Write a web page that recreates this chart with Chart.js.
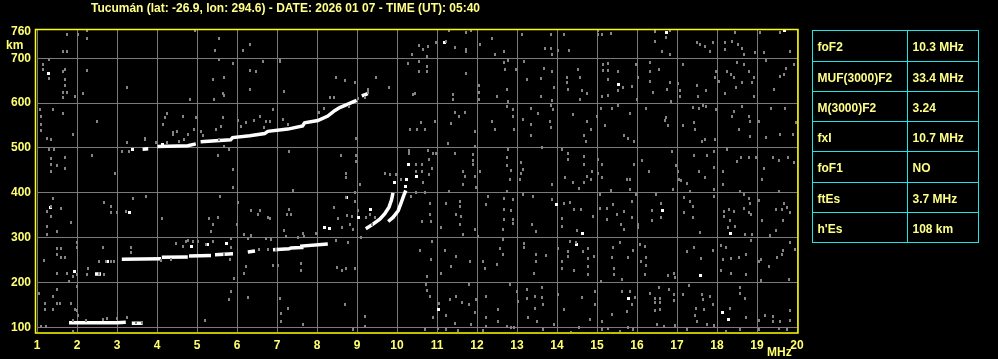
<!DOCTYPE html>
<html lang="es">
<head>
<meta charset="UTF-8">
<title>Ionograma Tucumán</title>
<script src="https://cdn.jsdelivr.net/npm/chart.js"></script>
<style>
  html, body { margin: 0; padding: 0; background: #000; }
  canvas { display: block; }
</style>
</head>
<body>
<canvas id="iono" width="998" height="359"></canvas>
<script>
// --- chart data -------------------------------------------------------
const titleText = 'Tucumán (lat: -26.9, lon: 294.6) - DATE: 2026 01 07 - TIME (UT): 05:40';
const xTicks = [1, 2, 3, 4, 5, 6, 7, 8, 9, 10, 11, 12, 13, 14, 15, 16, 17, 18, 19, 20];
const yTicks = [100, 200, 300, 400, 500, 600, 700, 760];

// echo traces [MHz, km], null = gap
const esTrace = [[1.80, 110], [2.4, 110], [3.0, 110], [3.22, 111], null, [3.37, 109], [3.64, 109]];
const lowTrace = [[2.45, 219], [2.6, 219], null, [3.12, 252], [4.1, 253], null, [4.12, 256], [4.77, 257], null,
  [4.8, 259], [5.35, 260], null, [5.45, 262], [5.9, 264], null, [6.27, 268], [6.45, 270], null,
  [6.9, 273], [7.3, 275], [7.35, 277], [7.6, 278], [7.62, 281], [8.27, 286]];
const f2Trace = [[3.64, 497], [3.78, 498], null, [4.01, 503], [4.77, 505], [4.97, 509], null, [5.09, 514],
  [5.84, 518], [5.89, 523], [6.32, 527], [6.69, 532], [6.77, 537], [7.27, 542], [7.64, 549], [7.69, 556],
  [8.02, 561], [8.27, 571], [8.44, 583], [8.57, 590], [8.99, 606], null, [9.12, 616], [9.27, 621]];
const hookA = [[9.22, 320], [9.40, 330], [9.57, 341], [9.69, 353], [9.80, 368], [9.86, 383], [9.90, 400]];
const hookB = [[9.78, 336], [9.90, 345], [10.03, 360], [10.11, 379], [10.17, 394], [10.22, 405]];

const whiteDots = [[1.29, 665], [1.345, 368], [1.93, 225], [2.76, 247], [3.30, 357], [3.385, 497], [4.14, 508],
  [4.87, 281], [5.27, 284], [5.73, 286], [8.187, 323], [8.31, 320], [8.737, 390], [9.028, 344], [9.337, 362],
  [9.945, 422], [10.295, 463], [10.487, 437], [10.237, 429], [10.22, 415], [11.195, 735], [11.028, 139],
  [15.537, 641], [13.995, 374], [14.637, 310], [14.495, 284], [15.787, 164], [16.737, 757], [19.687, 762],
  [16.628, 360], [18.337, 310], [17.587, 216], [18.128, 132], [18.295, 117]];

const noise = [
  // 1 - 4.8 MHz
  [1.745, 752], [2.03, 753], [2.24, 762], [2.24, 744], [1.64, 716], [1.745, 714], [1.29, 698], [1.14, 686],
  [1.14, 675], [1.29, 655], [1.64, 671], [1.69, 675], [2.245, 673], [1.695, 653], [1.695, 639], [1.74, 624],
  [1.64, 624], [1.64, 612], [1.95, 615], [2.14, 621], [3.24, 634], [1.08, 586], [1.095, 569], [1.095, 552],
  [1.095, 539], [1.39, 586], [1.64, 576], [2.495, 558], [1.91, 531], [1.245, 522], [1.345, 519], [1.29, 496],
  [1.43, 496], [1.345, 476], [1.345, 463], [1.495, 461], [1.695, 478], [1.695, 455], [1.345, 447], [2.385, 483],
  [2.945, 443], [4.245, 576], [4.19, 567], [4.64, 571], [4.14, 552], [4.39, 534], [4.51, 536], [3.70, 522],
  [3.245, 511], [3.12, 491], [3.30, 493], [1.39, 387], [1.345, 370], [1.26, 359], [1.595, 365], [1.345, 348],
  [1.26, 325], [1.26, 307], [1.845, 333], [1.495, 313], [2.68, 379], [2.845, 370], [2.845, 355], [3.0, 357],
  [3.22, 359], [3.41, 387], [3.735, 392], [4.135, 342], [1.01, 292], [1.495, 275], [1.595, 275], [1.495, 263],
  [1.595, 255], [1.695, 256], [1.995, 288], [1.995, 277], [2.64, 278], [3.345, 278], [3.345, 267], [1.18, 249],
  [2.55, 246], [2.72, 247], [2.845, 247], [2.93, 247], [1.51, 221], [1.745, 221], [1.89, 214], [2.01, 217],
  [2.285, 231], [2.26, 217], [2.68, 217], [1.80, 203], [1.04, 175], [1.495, 185], [1.39, 169], [1.495, 154],
  [1.57, 152], [1.845, 152], [1.195, 152], [1.195, 139], [1.41, 139], [1.945, 139], [1.995, 191], [2.03, 126],
  [1.99, 137], [1.095, 102], [1.235, 102], [1.90, 91], [3.69, 519], [3.97, 511], [4.26, 511], [4.39, 530],
  [4.55, 515], [4.68, 519], [4.47, 286], [4.64, 281], [4.72, 292], [4.35, 251], [4.1, 249], [2.55, 221],
  [2.76, 119], [3.01, 119], [3.26, 121], [3.47, 110], [3.62, 110], [2.64, 117], [2.22, 115], [1.89, 115],
  // 4.8 - 8.6 MHz
  [4.95, 762], [5.545, 743], [5.44, 717], [6.145, 717], [6.335, 731], [5.545, 697], [5.895, 688], [7.087, 697],
  [7.087, 692], [6.645, 692], [6.335, 673], [6.48, 670], [5.395, 653], [5.687, 656], [6.335, 630], [7.187, 625],
  [5.645, 621], [5.687, 617], [4.837, 608], [5.437, 608], [8.478, 656], [8.337, 612], [8.437, 612], [6.895, 586],
  [4.978, 567], [5.645, 567], [6.02, 561], [6.228, 556], [6.437, 561], [6.587, 571], [6.728, 560], [6.837, 560],
  [7.145, 563], [7.27, 552], [4.937, 541], [5.103, 537], [5.478, 541], [5.603, 548], [6.103, 548], [6.687, 545],
  [4.77, 530], [5.145, 528], [5.562, 519], [5.687, 504], [5.812, 496], [5.537, 483], [7.295, 491], [8.187, 589],
  [8.062, 578], [5.895, 452], [5.895, 412], [7.395, 405], [5.587, 391], [6.037, 379], [6.353, 360], [6.587, 360],
  [6.537, 351], [6.787, 345], [6.837, 342], [7.295, 362], [7.253, 351], [7.353, 351], [8.437, 368], [8.537, 342],
  [5.537, 345], [5.312, 342], [5.395, 329], [5.353, 313], [6.003, 329], [7.187, 316], [7.645, 310], [7.978, 310],
  [4.77, 294], [4.895, 292], [5.02, 292], [5.228, 284], [5.395, 292], [5.853, 298], [6.187, 307], [6.353, 305],
  [6.728, 298], [6.853, 296], [7.228, 303], [7.52, 301], [7.687, 303], [8.478, 293], [6.27, 299], [6.562, 273],
  [6.77, 273], [6.978, 273], [5.853, 277], [5.687, 262], [5.837, 251], [6.228, 236], [6.187, 221], [6.895, 238],
  [7.037, 238], [7.603, 243], [7.603, 226], [8.503, 234], [5.937, 209], [5.853, 180], [5.812, 162], [6.287, 167],
  [7.087, 164], [7.27, 143], [7.103, 130], [7.103, 112], [7.645, 107], [5.203, 115],
  // 8.6 - 12.4 MHz
  [11.295, 762], [11.737, 757], [11.862, 762], [10.987, 735], [11.237, 737], [10.778, 727], [10.653, 720],
  [10.545, 729], [10.387, 708], [10.753, 705], [11.445, 723], [11.737, 720], [11.737, 714], [12.087, 731],
  [10.278, 688], [10.545, 692], [10.753, 682], [10.545, 671], [10.753, 670], [11.737, 665], [8.695, 651],
  [8.945, 647], [9.487, 656], [9.803, 634], [9.278, 630], [9.278, 623], [9.195, 612], [9.028, 610], [8.795, 592],
  [10.403, 619], [10.445, 621], [11.403, 619], [11.403, 608], [12.053, 640], [12.053, 623], [12.053, 608],
  [11.445, 580], [11.695, 580], [11.545, 569], [11.345, 554], [10.595, 556], [10.337, 541], [10.503, 541],
  [10.695, 541], [10.945, 558], [11.945, 536], [8.987, 522], [11.278, 509], [11.945, 504], [10.295, 494],
  [10.295, 487], [10.778, 494], [10.903, 487], [10.987, 487], [10.803, 474], [11.445, 487], [11.903, 485],
  [11.903, 472], [11.903, 463], [8.595, 483], [8.987, 483], [8.987, 470], [8.737, 442], [8.737, 435],
  [9.087, 418], [10.487, 463], [10.637, 463], [10.487, 448], [10.637, 448], [10.887, 455], [10.803, 441],
  [11.653, 448], [11.695, 437], [11.945, 437], [12.07, 448], [11.653, 418], [11.987, 412], [10.653, 424],
  [9.695, 444], [9.82, 441], [9.987, 441], [10.112, 429], [8.945, 400], [8.737, 390], [10.487, 400],
  [10.695, 400], [11.295, 402], [8.945, 381], [8.753, 349], [9.028, 360], [8.887, 348], [8.82, 329],
  [8.903, 318], [9.112, 301], [8.637, 323], [9.32, 351], [9.445, 344], [9.237, 344], [9.378, 329], [10.82, 377],
  [10.82, 351], [10.845, 336], [10.637, 336], [10.362, 392], [11.095, 322], [11.237, 377], [11.57, 381],
  [11.57, 370], [11.487, 351], [11.612, 348], [11.587, 329], [11.653, 307], [11.945, 318], [12.278, 392],
  [12.237, 374], [12.028, 303], [8.778, 288], [10.887, 292], [10.587, 271], [11.195, 271], [11.487, 258],
  [10.845, 251], [11.095, 219], [11.362, 236], [11.82, 246], [12.153, 247], [12.195, 232], [10.753, 214],
  [8.737, 231], [8.945, 232], [8.637, 226], [11.803, 195], [10.72, 195], [10.753, 182], [10.82, 169],
  [11.053, 152], [11.32, 162], [11.487, 169], [11.637, 156], [11.803, 150], [11.97, 162], [12.237, 169],
  [8.695, 150], [9.195, 124], [9.195, 102], [10.903, 121], [11.237, 127], [11.445, 109], [11.028, 98],
  [10.695, 95], [11.945, 132], [12.237, 121], [11.862, 107], [12.237, 102], [12.153, 92], [11.528, 92],
  [11.22, 95], [8.903, 95],
  // 12.4 - 16.2 MHz
  [13.12, 752], [13.853, 753], [14.187, 752], [15.037, 762], [15.345, 755], [12.387, 744], [12.687, 714],
  [12.453, 708], [13.703, 722], [13.853, 722], [13.887, 708], [14.037, 717], [14.303, 717], [15.037, 752],
  [15.137, 753], [12.787, 695], [12.687, 690], [13.187, 692], [12.703, 675], [12.97, 675], [13.678, 677],
  [13.887, 671], [13.245, 653], [13.603, 655], [14.245, 658], [14.245, 645], [14.537, 675], [14.578, 656],
  [15.162, 685], [15.287, 688], [15.162, 673], [15.287, 673], [15.537, 671], [15.287, 653], [15.537, 627],
  [15.645, 634], [15.887, 638], [16.037, 658], [15.97, 685], [12.745, 630], [12.495, 615], [12.787, 604],
  [13.603, 615], [13.937, 634], [13.887, 606], [14.27, 630], [14.578, 608], [14.637, 627], [14.745, 621],
  [15.12, 615], [15.287, 618], [16.0, 608], [12.745, 593], [12.912, 586], [12.912, 571], [13.353, 589],
  [13.537, 576], [13.853, 595], [13.895, 586], [13.145, 563], [13.353, 552], [13.828, 558], [12.37, 558],
  [12.453, 541], [12.937, 541], [13.353, 528], [13.853, 546], [14.395, 575], [14.745, 560], [14.853, 541],
  [14.687, 528], [14.728, 515], [14.995, 569], [15.103, 589], [15.37, 589], [15.537, 595], [15.828, 576],
  [15.687, 528], [15.778, 522], [15.937, 515], [15.203, 551], [13.637, 500], [12.787, 496], [12.745, 478],
  [12.745, 461], [12.853, 450], [12.828, 429], [13.103, 467], [13.103, 444], [13.145, 452], [13.078, 429],
  [13.887, 418], [14.137, 496], [14.287, 487], [14.287, 474], [14.687, 482], [14.687, 463], [14.745, 437],
  [14.687, 422], [14.853, 429], [14.87, 447], [14.203, 435], [14.412, 422], [14.553, 409], [15.037, 474],
  [15.12, 463], [15.037, 444], [15.12, 433], [15.345, 405], [15.937, 464], [15.745, 429], [15.828, 429],
  [15.828, 407], [16.137, 472], [12.745, 403], [13.162, 396], [13.412, 391], [13.887, 385], [14.187, 377],
  [14.328, 379], [14.137, 342], [14.12, 325], [12.687, 388], [12.895, 385], [12.687, 362], [12.853, 360],
  [12.895, 340], [12.895, 331], [12.687, 340], [12.645, 319], [13.37, 329], [13.47, 314], [14.437, 362],
  [14.495, 316], [14.603, 362], [14.895, 348], [15.078, 396], [15.078, 366], [15.245, 366], [15.245, 340],
  [15.412, 374], [15.495, 351], [15.603, 329], [15.687, 359], [15.687, 318], [15.87, 345], [15.87, 381],
  [15.97, 396], [16.037, 322], [16.037, 329], [12.645, 295], [12.578, 275], [12.495, 240], [12.645, 262],
  [13.187, 286], [13.187, 277], [13.478, 262], [13.478, 247], [13.72, 261], [13.437, 221], [14.12, 247],
  [14.12, 232], [14.287, 270], [14.287, 258], [14.437, 226], [14.328, 292], [14.478, 288], [14.662, 268],
  [14.787, 275], [14.787, 253], [14.937, 258], [14.787, 236], [14.787, 217], [14.037, 275], [15.412, 277],
  [15.37, 255], [15.437, 232], [15.437, 217], [15.578, 288], [15.787, 255], [15.912, 271], [16.078, 284],
  [16.103, 247], [15.62, 206], [15.103, 203], [12.828, 195], [12.995, 180], [13.02, 158], [13.245, 184],
  [13.245, 165], [13.453, 169], [13.637, 188], [13.637, 167], [13.662, 150], [13.453, 143], [13.287, 121],
  [12.537, 139], [12.537, 113], [12.745, 102], [12.853, 100], [12.937, 100], [13.495, 113], [13.662, 95],
  [13.937, 107], [14.037, 173], [14.187, 139], [14.353, 89], [14.553, 100], [14.62, 167], [14.828, 117],
  [14.953, 180], [14.953, 150], [15.12, 113], [15.12, 95], [15.287, 98], [15.37, 128], [15.62, 180],
  [15.745, 136], [15.828, 180], [15.887, 150], [15.953, 167], [15.787, 100], [15.912, 95], [15.578, 91],
  // 16.2 - 20 MHz
  [16.462, 759], [16.837, 762], [16.737, 747], [16.462, 738], [16.628, 716], [16.837, 708], [17.503, 735],
  [17.57, 731], [17.695, 727], [17.837, 714], [17.903, 735], [18.195, 735], [18.195, 720], [18.378, 738],
  [18.445, 757], [18.528, 731], [18.628, 722], [18.67, 708], [18.962, 712], [19.087, 757], [19.187, 712],
  [19.587, 757], [19.837, 714], [16.337, 690], [16.337, 671], [16.337, 649], [16.395, 623], [16.545, 675],
  [16.753, 630], [16.837, 647], [16.853, 604], [17.028, 643], [17.087, 627], [17.087, 615], [17.153, 685],
  [17.503, 640], [17.528, 615], [17.737, 627], [17.987, 671], [17.962, 656], [18.045, 649], [18.195, 621],
  [18.253, 671], [18.353, 664], [18.42, 658], [18.487, 634], [18.503, 690], [18.628, 645], [18.67, 686],
  [18.795, 670], [18.878, 647], [18.92, 615], [18.937, 658], [19.237, 694], [19.437, 630], [19.587, 660],
  [19.687, 664], [19.737, 677], [19.92, 686], [16.237, 589], [16.737, 567], [16.77, 551], [16.695, 561],
  [17.153, 551], [17.403, 591], [17.42, 556], [17.545, 588], [17.653, 595], [17.462, 541], [17.628, 515],
  [17.712, 519], [17.737, 593], [17.987, 586], [17.962, 519], [18.378, 571], [18.437, 582], [18.628, 593],
  [18.545, 541], [18.795, 571], [18.837, 560], [18.837, 526], [19.045, 558], [19.237, 524], [19.353, 589],
  [19.57, 531], [19.695, 589], [19.903, 531], [19.987, 556], [16.295, 447], [16.878, 493], [16.987, 461],
  [17.02, 447], [17.045, 429], [17.103, 427], [17.253, 420], [16.903, 407], [17.337, 403], [17.437, 484],
  [17.545, 447], [17.695, 433], [17.753, 484], [17.92, 457], [17.92, 407], [17.92, 491], [18.145, 447],
  [18.145, 418], [18.253, 496], [18.503, 469], [18.612, 478], [18.795, 478], [18.983, 478], [18.587, 402],
  [19.128, 429], [19.187, 455], [19.403, 478], [19.545, 472], [19.545, 403], [19.77, 478], [19.937, 467],
  [16.487, 397], [16.603, 377], [16.378, 360], [16.603, 344], [16.378, 338], [17.17, 389], [17.17, 355],
  [17.337, 380], [17.395, 370], [17.403, 344], [17.587, 312], [17.937, 392], [18.17, 359], [18.295, 362],
  [18.437, 359], [18.187, 348], [18.32, 338], [18.462, 325], [18.27, 322], [18.67, 396], [18.795, 387],
  [18.837, 377], [18.67, 366], [18.795, 355], [18.853, 351], [18.712, 307], [18.878, 307], [19.045, 383],
  [19.128, 338], [19.337, 305], [19.487, 362], [19.628, 362], [19.67, 377], [19.753, 368], [19.653, 338],
  [19.487, 316], [19.837, 355], [16.212, 281], [16.237, 255], [16.237, 238], [16.212, 217], [16.77, 216],
  [16.962, 210], [16.937, 219], [17.253, 269], [17.437, 278], [17.603, 253], [17.903, 271], [18.112, 283],
  [18.237, 278], [18.153, 251], [18.103, 226], [18.353, 253], [18.353, 221], [18.545, 256], [18.737, 262],
  [18.737, 217], [18.853, 293], [19.045, 247], [19.103, 251], [19.103, 204], [19.295, 236], [19.503, 255],
  [19.628, 262], [19.653, 271], [19.837, 290], [19.945, 273], [19.795, 206], [16.545, 189], [16.795, 184],
  [16.337, 176], [16.462, 164], [16.57, 164], [16.462, 156], [16.57, 156], [16.462, 137], [16.57, 139],
  [16.937, 174], [16.937, 159], [17.153, 173], [17.295, 194], [17.628, 173], [17.653, 162], [17.82, 169],
  [17.903, 150], [17.487, 142], [17.462, 127], [17.503, 113], [17.687, 139], [17.753, 107], [17.92, 104],
  [18.337, 143], [18.587, 189], [18.587, 176], [18.712, 164], [18.737, 121], [19.045, 115], [19.212, 127],
  [19.403, 124], [19.403, 112], [19.57, 112], [19.837, 137], [19.837, 115], [19.753, 95], [19.545, 98],
  [17.253, 95], [16.67, 102], [16.503, 106], [16.962, 104], [18.237, 91], [18.587, 95], [19.045, 95]
];

const tableLabels = ['foF2', 'MUF(3000)F2', 'M(3000)F2', 'fxI', 'foF1', 'ftEs', "h'Es"];
const tableValues = ['10.3 MHz', '33.4 MHz', '3.24', '10.7 MHz', 'NO', '3.7 MHz', '108 km'];

// --- helpers ------------------------------------------------------------
const FONT = 'bold 12px "Liberation Sans", Arial, sans-serif';
const toXY = (arr) => {
  const out = [];
  arr.forEach((p, i) => {
    if (p === null) out.push({ x: arr[i - 1][0], y: null });
    else out.push({ x: p[0], y: p[1] });
  });
  return out;
};
const trace = (arr) => ({
  data: toXY(arr), showLine: true, spanGaps: false, pointRadius: 0,
  borderColor: '#ffffff', borderWidth: 3.5, borderCapStyle: 'butt'
});
// small pixel blocks used as point markers
const block = (w, h, color) => {
  const cv = document.createElement('canvas');
  cv.width = w; cv.height = h;
  const g = cv.getContext('2d');
  g.fillStyle = color;
  g.fillRect(0, 0, w, h);
  return cv;
};
const grayDot = block(2, 3, '#848484');
const whiteDot = block(3, 3, '#ffffff');

// draws frame, title, unit labels and the parameter table
const decor = {
  id: 'decor',
  beforeDraw(chart) {
    const c = chart.ctx;
    c.save();
    c.fillStyle = '#000';
    c.fillRect(0, 0, chart.width, chart.height);
    c.restore();
  },
  afterDraw(chart) {
    const c = chart.ctx;
    const a = chart.chartArea;
    c.save();
    c.strokeStyle = '#ffff00';
    c.lineWidth = 1.5;
    c.strokeRect(a.left - 1.5, a.top - 0.5, a.right - a.left + 2.5, a.bottom - a.top + 1.5);

    c.font = FONT;
    c.fillStyle = '#ffff88';
    c.textBaseline = 'alphabetic';
    c.textAlign = 'left';
    c.fillText(titleText, 91, 11.5);
    c.fillStyle = '#ffff70';
    c.fillText('km', 6, 49);
    c.fillText('MHz', 767, 356);

    // parameter table
    const rows = [30, 61, 91, 121, 151, 182, 212, 242];
    const cols = [812, 907, 978];
    c.strokeStyle = '#1ee6e6';
    c.lineWidth = 1;
    c.beginPath();
    rows.forEach(y => { c.moveTo(cols[0], y + 0.5); c.lineTo(cols[2] + 1, y + 0.5); });
    cols.forEach(x => { c.moveTo(x + 0.5, rows[0]); c.lineTo(x + 0.5, rows[rows.length - 1] + 1); });
    c.stroke();
    c.fillStyle = '#ffff88';
    tableLabels.forEach((t, i) => {
      c.fillText(t, 817.5, rows[i] + 20.5);
      c.fillText(tableValues[i], 912.5, rows[i] + 20.5);
    });
    c.restore();
  }
};

const ctx = document.getElementById('iono').getContext('2d');
new Chart(ctx, {
  type: 'scatter',
  data: {
    datasets: [
      { data: toXY(noise), pointStyle: grayDot, pointRadius: 2 },
      { data: toXY(whiteDots), pointStyle: whiteDot, pointRadius: 2 },
      trace(esTrace),
      trace(lowTrace),
      trace(f2Trace),
      trace(hookA),
      trace(hookB)
    ]
  },
  options: {
    responsive: false,
    animation: false,
    devicePixelRatio: 1,
    layout: { padding: { left: 0, right: 201, top: 30, bottom: 0 } },
    plugins: { legend: { display: false }, tooltip: { enabled: false } },
    scales: {
      x: {
        type: 'linear', min: 1, max: 20,
        afterBuildTicks: (s) => { s.ticks = xTicks.map(v => ({ value: v })); },
        afterFit: (s) => { s.height = 27; },
        ticks: { color: '#ffff70', font: { family: '"Liberation Sans", Arial, sans-serif', size: 12, weight: 'bold' },
                 padding: 6, autoSkip: false, maxRotation: 0 },
        grid: { color: '#7a7a7a', lineWidth: 1, drawTicks: false },
        border: { display: false }
      },
      y: {
        type: 'linear', min: 89.5, max: 763,
        afterBuildTicks: (s) => { s.ticks = yTicks.map(v => ({ value: v })); },
        afterFit: (s) => { s.width = 37; },
        ticks: { color: '#ffff70', font: { family: '"Liberation Sans", Arial, sans-serif', size: 12, weight: 'bold' },
                 padding: 6, autoSkip: false },
        grid: { color: (g) => g.tick && g.tick.value === 760 ? 'rgba(0,0,0,0)' : '#7a7a7a', lineWidth: 1, drawTicks: false },
        border: { display: false }
      }
    }
  },
  plugins: [decor]
});
</script>
</body>
</html>
